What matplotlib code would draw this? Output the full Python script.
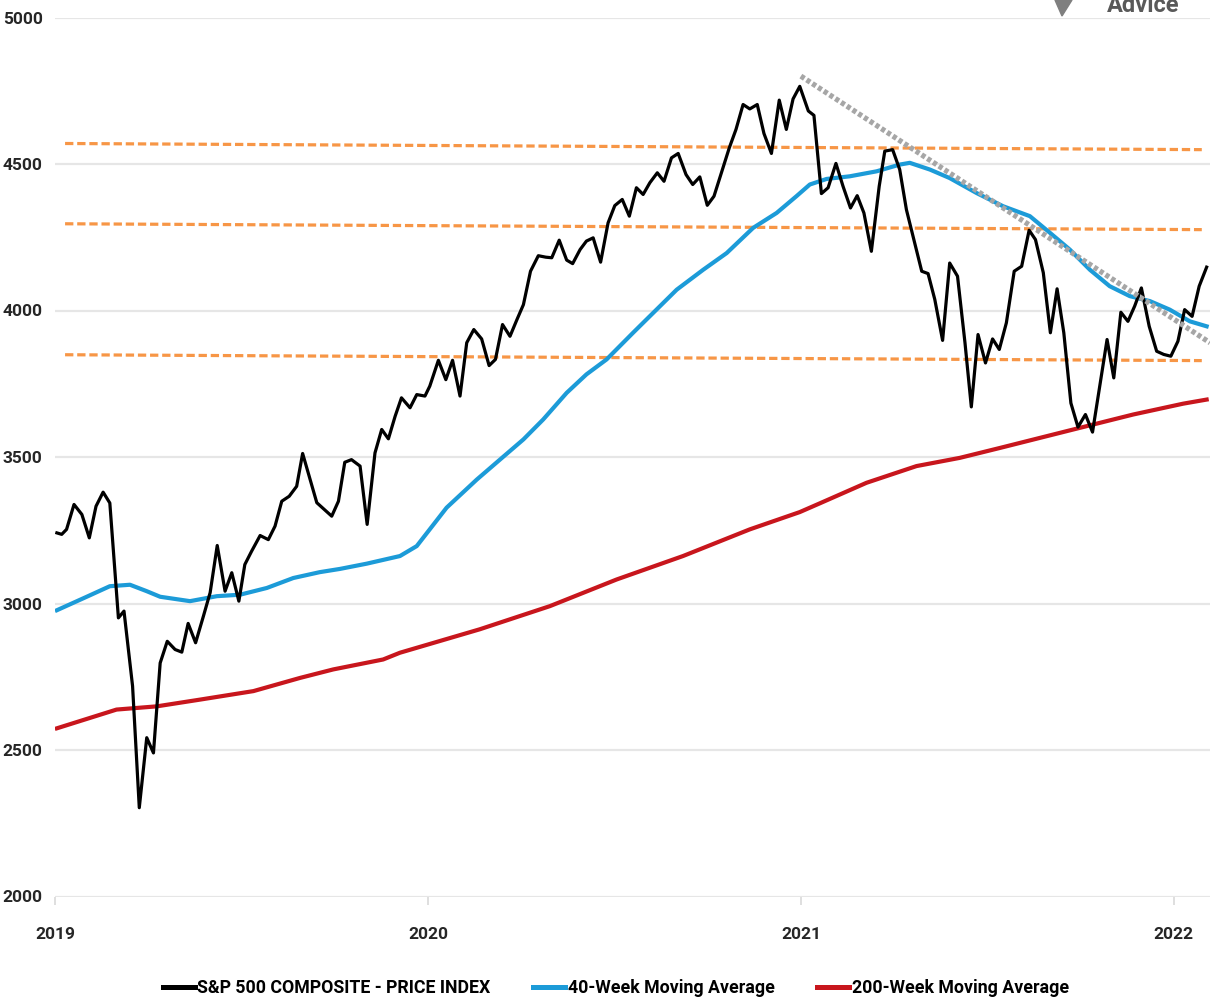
"""
 - S&P 500 weekly price vs 40-week / 200-week moving averages
"""

import matplotlib.pyplot as plt
from matplotlib.patches import Polygon

plt.rcParams['font.family'] = ['Roboto', 'DejaVu Sans']
plt.rcParams['font.weight'] = 'bold'


# 1. data (x = decimal year, y = index level)
price_x = [2019.005, 2019.018, 2019.031, 2019.051, 2019.072, 2019.092, 2019.110, 2019.129,
           2019.147, 2019.170, 2019.185, 2019.208, 2019.226, 2019.246, 2019.264, 2019.282,
           2019.301, 2019.322, 2019.340, 2019.357, 2019.377, 2019.398, 2019.416, 2019.435,
           2019.456, 2019.474, 2019.493, 2019.509, 2019.527, 2019.550, 2019.572, 2019.590,
           2019.608, 2019.628, 2019.648, 2019.664, 2019.702, 2019.742, 2019.760, 2019.777,
           2019.795, 2019.818, 2019.837, 2019.858, 2019.876, 2019.894, 2019.912, 2019.929,
           2019.952, 2019.970, 2019.992, 2020.005, 2020.028, 2020.048, 2020.066, 2020.086,
           2020.104, 2020.123, 2020.144, 2020.164, 2020.181, 2020.200, 2020.220, 2020.238,
           2020.256, 2020.275, 2020.296, 2020.316, 2020.332, 2020.352, 2020.372, 2020.388,
           2020.408, 2020.425, 2020.443, 2020.463, 2020.483, 2020.501, 2020.521, 2020.540,
           2020.559, 2020.577, 2020.595, 2020.615, 2020.633, 2020.653, 2020.671, 2020.692,
           2020.710, 2020.729, 2020.749, 2020.767, 2020.787, 2020.808, 2020.826, 2020.845,
           2020.863, 2020.883, 2020.901, 2020.921, 2020.942, 2020.961, 2020.979, 2020.997,
           2021.020, 2021.035, 2021.055, 2021.073, 2021.094, 2021.113, 2021.133, 2021.151,
           2021.169, 2021.189, 2021.210, 2021.225, 2021.246, 2021.265, 2021.283, 2021.303,
           2021.324, 2021.341, 2021.359, 2021.380, 2021.399, 2021.420, 2021.440, 2021.457,
           2021.475, 2021.495, 2021.514, 2021.532, 2021.551, 2021.572, 2021.592, 2021.612,
           2021.629, 2021.650, 2021.669, 2021.687, 2021.705, 2021.724, 2021.743, 2021.763,
           2021.782, 2021.802, 2021.821, 2021.839, 2021.858, 2021.877, 2021.895, 2021.913,
           2021.934, 2021.954, 2021.973, 2021.992, 2022.011, 2022.029, 2022.049, 2022.068,
           2022.088]
price_y = [3241, 3236, 3253, 3338, 3304, 3224, 3332, 3380,
           3343, 2951, 2974, 2718, 2303, 2542, 2490, 2797,
           2871, 2843, 2834, 2932, 2866, 2957, 3037, 3198,
           3042, 3105, 3008, 3133, 3178, 3232, 3218, 3264,
           3349, 3366, 3400, 3512, 3344, 3298, 3349, 3482,
           3491, 3469, 3270, 3514, 3594, 3562, 3639, 3702,
           3668, 3713, 3708, 3742, 3830, 3764, 3830, 3708,
           3890, 3935, 3903, 3812, 3833, 3952, 3912, 3967,
           4020, 4134, 4187, 4182, 4180, 4240, 4172, 4160,
           4208, 4237, 4248, 4165, 4299, 4358, 4379, 4322,
           4419, 4396, 4436, 4470, 4441, 4521, 4536, 4464,
           4430, 4456, 4359, 4390, 4470, 4555, 4618, 4703,
           4688, 4703, 4604, 4536, 4718, 4618, 4722, 4765,
           4681, 4666, 4399, 4419, 4502, 4424, 4350, 4392,
           4333, 4202, 4424, 4544, 4549, 4481, 4344, 4242,
           4134, 4126, 4038, 3898, 4162, 4117, 3890, 3671,
           3918, 3821, 3903, 3867, 3958, 4134, 4151, 4274,
           4242, 4129, 3924, 4074, 3924, 3684, 3602, 3645,
           3585, 3747, 3901, 3770, 3994, 3963, 4015, 4077,
           3946, 3861, 3850, 3844, 3895, 4003, 3980, 4083,
           4148]

ma40_x = [2019.005, 2019.085, 2019.147, 2019.201, 2019.246, 2019.282, 2019.362, 2019.434,
          2019.496, 2019.568, 2019.639, 2019.710, 2019.764, 2019.836, 2019.925, 2019.970,
          2020.050, 2020.131, 2020.193, 2020.256, 2020.309, 2020.372, 2020.425, 2020.479,
          2020.550, 2020.577, 2020.667, 2020.738, 2020.801, 2020.872, 2020.935, 2020.988,
          2021.024, 2021.069, 2021.131, 2021.203, 2021.265, 2021.292, 2021.346, 2021.399,
          2021.471, 2021.542, 2021.614, 2021.668, 2021.721, 2021.775, 2021.828, 2021.882,
          2021.936, 2021.989, 2022.043, 2022.088]
ma40_y = [2977, 3023, 3059, 3064, 3042, 3023, 3008, 3025,
          3030, 3053, 3087, 3107, 3118, 3136, 3162, 3196,
          3327, 3423, 3491, 3560, 3628, 3719, 3782, 3833,
          3924, 3958, 4071, 4139, 4196, 4282, 4333, 4390,
          4430, 4449, 4458, 4475, 4498, 4504, 4481, 4452,
          4401, 4356, 4322, 4265, 4208, 4139, 4083, 4049,
          4032, 4003, 3963, 3946]

ma200_x = [2019.005, 2019.165, 2019.273, 2019.389, 2019.532, 2019.657, 2019.746, 2019.880,
           2019.925, 2020.139, 2020.327, 2020.506, 2020.684, 2020.863, 2020.997, 2021.051,
           2021.176, 2021.310, 2021.426, 2021.534, 2021.712, 2021.891, 2022.025, 2022.088]
ma200_y = [2574, 2638, 2649, 2672, 2701, 2746, 2775, 2809,
           2832, 2912, 2991, 3082, 3162, 3253, 3312, 3342,
           3412, 3469, 3497, 3531, 3588, 3645, 3682, 3696]

# horizontal support / resistance levels (start, end)
level_x = [2019.027, 2022.075]
levels = [[4570, 4549], [4296, 4276], [3849, 3829]]

# falling trend line from the peak
trend_x = [2021.0, 2022.097]
trend_y = [4800, 3890]

years = [2019, 2020, 2021, 2022]
yticks = [2000, 2500, 3000, 3500, 4000, 4500, 5000]


# 2. chart
fig = plt.figure(figsize=(12.1, 10.08), dpi=100)
ax = fig.add_axes([55 / 1210, 1 - 896.5 / 1008, 1 - 55 / 1210, (896.5 - 17.5) / 1008])

for lv in levels:
    ax.plot(level_x, lv, color='#F79646', lw=2.3, ls=(0, (2.6, 1.2)), zorder=2)

ax.plot(trend_x, trend_y, color='#A6A6A6', lw=3.8, ls=(0, (0.8, 0.5)), zorder=5)

ax.plot(ma200_x, ma200_y, color='#C8161D', lw=3.0, zorder=3, label='200-Week Moving Average')
ax.plot(ma40_x, ma40_y, color='#1C9BD8', lw=3.0, zorder=3, label='40-Week Moving Average')
ax.plot(price_x, price_y, color='black', lw=2.3, zorder=4,
        label='S&P 500 COMPOSITE - PRICE INDEX')

ax.set_xlim(2019.0, 2022.097)
ax.set_ylim(2000, 5000)
ax.set_yticks(yticks)
ax.set_xticks(years)
ax.set_xticklabels([str(y) for y in years])

ax.grid(axis='y', color='#E6E6E6', lw=1.6, zorder=0)
ax.set_axisbelow(True)
for s in ax.spines.values():
    s.set_visible(False)
ax.tick_params(axis='y', length=0, pad=9, labelsize=12.5, labelcolor='#262626')
ax.tick_params(axis='x', length=6, width=1.2, color='#D9D9D9', pad=16,
               labelsize=12.5, labelcolor='#262626')

# legend under the chart, in the original order
h, l = ax.get_legend_handles_labels()
order = [2, 1, 0]
leg = fig.legend([h[i] for i in order], [l[i] for i in order], loc='center',
                 bbox_to_anchor=(0.509, 0.0198), ncol=3, frameon=False, fontsize=12.8,
                 handlelength=1.8, handletextpad=0.15, columnspacing=2.4)
for ln in leg.get_lines():
    ln.set_linewidth(3.6)

# cropped logo at top right
fig.text(1107 / 1210, 1 - 12 / 1008, 'Advice', fontsize=17, color='#595959',
         ha='left', va='baseline')
fig.add_artist(Polygon([[1055 / 1210, 1.0], [1072 / 1210, 1.0], [1062 / 1210, 1 - 16 / 1008]],
                       closed=True, transform=fig.transFigure, color='#7F7F7F'))

plt.savefig('out.png', dpi=100)
